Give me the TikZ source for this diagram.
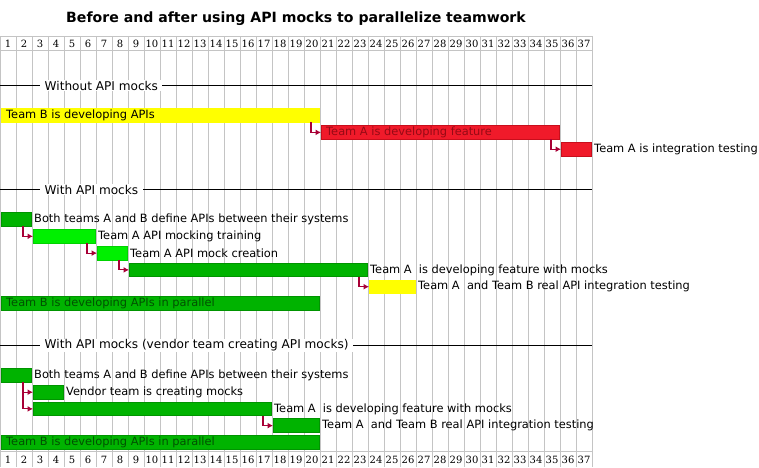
\documentclass[tikz,border=0pt]{standalone}
\usepackage{fontspec}
\setmainfont{DejaVu Sans}
\newfontfamily\numfont{DejaVu Serif}
\usetikzlibrary{arrows.meta}
\definecolor{gridc}{HTML}{C4C4C4}
\definecolor{arrc}{HTML}{A80036}
\definecolor{ylw}{HTML}{FFFF00}
\definecolor{redf}{HTML}{F01A2A}
\definecolor{redd}{HTML}{C80E1C}
\definecolor{grnf}{HTML}{00B300}
\definecolor{grnd}{HTML}{009400}
\definecolor{limf}{HTML}{00F000}
\definecolor{limd}{HTML}{00D200}
\tikzset{
  yellowbar/.style={fill=ylw,draw=ylw},
  redbar/.style={fill=redf,draw=redd},
  greenbar/.style={fill=grnf,draw=grnd},
  limebar/.style={fill=limf,draw=limd},
  lbl/.style={font=\fontsize{11.4}{13}\selectfont,anchor=west,inner sep=0pt},
  inlbl/.style={font=\fontsize{11.4}{13}\selectfont,anchor=west,inner sep=0pt},
  secl/.style={font=\fontsize{12.1}{14}\selectfont,anchor=west,fill=white,inner xsep=4.5pt,inner ysep=1pt},
  dep/.style={draw=arrc,line width=1.1pt,-{Latex[length=5.5pt,width=6pt]}},
  num/.style={font=\numfont\fontsize{10}{12}\selectfont,inner sep=0pt}
}
\newcommand\gtask[5]{%
  \pgfmathsetmacro\gxa{16*(#2-1)+1}%
  \pgfmathsetmacro\gwid{16*(#3-#2+1)-2}%
  \node[#5,anchor=north west,minimum width=\gwid pt,minimum height=13.6pt,inner sep=0pt,outer sep=0pt,line width=0.8pt] (#1) at (\gxa,#4) {};%
}
\begin{document}
\begin{tikzpicture}[x=1pt,y=-1pt]
\useasboundingbox (0,0) rectangle (759,467);
% title
\node[font=\bfseries\fontsize{14.1}{16}\selectfont] (title) at (296,18.5) {Before and after using API mocks to parallelize teamwork};
% grid
\foreach \i in {0,...,37}{
  \draw[gridc,line width=0.8pt] (16*\i+0.5,36) -- (16*\i+0.5,467);
}
\draw[gridc,line width=0.8pt] (0,36.5) -- (592.5,36.5);
\draw[gridc,line width=0.8pt] (0,50.5) -- (592.5,50.5);
\draw[gridc,line width=0.8pt] (0,451.5) -- (592.5,451.5);
\foreach \i in {1,...,37}{
  \node[num] (top\i) at (16*\i-8,43.5) {\i};
  \node[num] (bot\i) at (16*\i-8,459.5) {\i};
}
% section 1
\draw[line width=0.8pt] (0,85.5) -- (592,85.5);
\node[secl] (s1) at (40,85.5) {Without API mocks};
\gtask{a1}{1}{20}{108.8}{yellowbar}
\gtask{a2}{21}{35}{125.6}{redbar}
\gtask{a3}{36}{37}{142.4}{redbar}
\node[inlbl] (a1l) at ([xshift=5pt]a1.west) {Team B is developing APIs};
\node[inlbl,text=redd!75!black] (a2l) at ([xshift=5pt]a2.west) {Team A is developing feature};
\node[lbl] (a3l) at ([xshift=3pt]a3.east) {Team A is integration testing};
\draw[dep] ([xshift=-8pt]a1.south east) |- (a2.west);
\draw[dep] ([xshift=-8pt]a2.south east) |- (a3.west);
% section 2
\draw[line width=0.8pt] (0,189.5) -- (592,189.5);
\node[secl] (s2) at (40,189.5) {With API mocks};
\gtask{b1}{1}{2}{212.7}{greenbar}
\gtask{b2}{3}{6}{229.5}{limebar}
\gtask{b3}{7}{8}{246.3}{limebar}
\gtask{b4}{9}{23}{263.1}{greenbar}
\gtask{b5}{24}{26}{279.9}{yellowbar}
\gtask{b6}{1}{20}{296.7}{greenbar}
\node[lbl] (b1l) at ([xshift=3pt]b1.east) {Both teams A and B define APIs between their systems};
\node[lbl] (b2l) at ([xshift=3pt]b2.east) {Team A API mocking training};
\node[lbl] (b3l) at ([xshift=3pt]b3.east) {Team A API mock creation};
\node[lbl] (b4l) at ([xshift=3pt]b4.east) {Team A\ \ is developing feature with mocks};
\node[lbl] (b5l) at ([xshift=3pt]b5.east) {Team A\ \ and Team B real API integration testing};
\node[inlbl,text=grnd!55!black] (b6l) at ([xshift=5pt]b6.west) {Team B is developing APIs in parallel};
\draw[dep] ([xshift=-8pt]b1.south east) |- (b2.west);
\draw[dep] ([xshift=-8pt]b2.south east) |- (b3.west);
\draw[dep] ([xshift=-8pt]b3.south east) |- (b4.west);
\draw[dep] ([xshift=-8pt]b4.south east) |- (b5.west);
% section 3
\draw[line width=0.8pt] (0,345.5) -- (592,345.5);
\node[secl] (s3) at (40,345.5) {With API mocks (vendor team creating API mocks)};
\gtask{c1}{1}{2}{368.7}{greenbar}
\gtask{c2}{3}{4}{385.4}{greenbar}
\gtask{c3}{3}{17}{402.1}{greenbar}
\gtask{c4}{18}{20}{418.8}{greenbar}
\gtask{c5}{1}{20}{435.5}{greenbar}
\node[lbl] (c1l) at ([xshift=3pt]c1.east) {Both teams A and B define APIs between their systems};
\node[lbl] (c2l) at ([xshift=3pt]c2.east) {Vendor team is creating mocks};
\node[lbl] (c3l) at ([xshift=3pt]c3.east) {Team A\ \ is developing feature with mocks};
\node[lbl] (c4l) at ([xshift=3pt]c4.east) {Team A\ \ and Team B real API integration testing};
\node[inlbl,text=grnd!55!black] (c5l) at ([xshift=5pt]c5.west) {Team B is developing APIs in parallel};
\draw[dep] ([xshift=-8pt]c1.south east) |- (c2.west);
\draw[dep] ([xshift=-8pt]c1.south east) |- (c3.west);
\draw[dep] ([xshift=-8pt]c3.south east) |- (c4.west);
\end{tikzpicture}
\end{document}
